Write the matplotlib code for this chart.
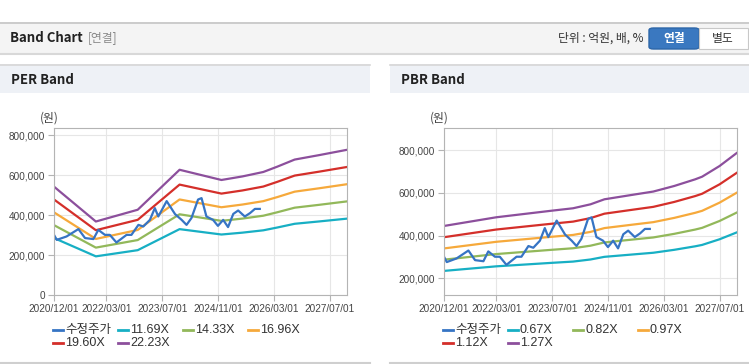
import matplotlib.pyplot as plt
from matplotlib.patches import Rectangle, FancyBboxPatch
from matplotlib.lines import Line2D

plt.rcParams['font.family'] = ['Liberation Sans', 'Noto Sans CJK KR']

# x positions are months counted from 2020/12
x_labels = ['2020/12/01', '2022/03/01', '2023/07/01', '2024/11/01', '2026/03/01', '2027/07/01']

price_x = [0, 0.8, 3.6, 7, 8.9, 11.3, 12.7, 14.6, 16, 17.9, 20.8, 22.2, 24.2, 25.6, 27.5,
           28.9, 29.9, 32.3, 34.7, 36.6, 38, 39.4, 41.3, 42.3, 43.7, 45.6, 47, 48.5, 49.9,
           51.4, 52.8, 54.7, 56.2, 57.6, 59]
price = [301000, 276000, 293000, 330000, 285000, 280000, 326000, 301000, 301000, 263000,
         301000, 301000, 351000, 343000, 376000, 435000, 393000, 470000, 405000, 376000,
         351000, 385000, 478000, 485000, 393000, 376000, 346000, 376000, 340000, 406000,
         423000, 393000, 410000, 431000, 431000]

per_x = [0, 12, 24, 36, 48, 54, 60, 64, 69, 76, 84]
per_names = ['11.69X', '14.33X', '16.96X', '19.60X', '22.23X']
per_bands = [
    [285200, 193500, 224400, 329700, 302800, 312100, 323800, 337800, 356500, 368200, 382300],
    [349700, 237200, 275100, 404100, 371100, 382600, 396900, 414100, 437100, 451400, 468600],
    [413800, 280700, 325600, 478300, 439300, 452800, 469800, 490100, 517300, 534200, 554600],
    [478200, 324400, 376300, 552700, 507600, 523300, 542900, 566400, 597800, 617400, 640900],
    [542400, 367900, 426800, 626900, 575800, 593500, 615800, 642400, 678000, 700200, 726900],
]

pbr_x = [0, 15, 31, 37, 42, 46, 55, 60, 66, 72, 74, 79, 84]
pbr_names = ['0.67X', '0.82X', '0.97X', '1.12X', '1.27X']
pbr_bands = [
    [234700, 256100, 272500, 278300, 288100, 300500, 312800, 319600, 333300, 349700, 356200, 382600, 415200],
    [287200, 313500, 333500, 340600, 352600, 367800, 382900, 391100, 408000, 428000, 436000, 468200, 508200],
    [339800, 370800, 394500, 402900, 417100, 435000, 452900, 462700, 482600, 506300, 515700, 553900, 601100],
    [392300, 428200, 455500, 465200, 481600, 502300, 522900, 534200, 557200, 584600, 595500, 639500, 694100],
    [444900, 485500, 516500, 527600, 546100, 569600, 593000, 605800, 631800, 662900, 675300, 725200, 787000],
]

price_color = '#3674c4'
band_colors = ['#17afc4', '#92b85a', '#f6a93b', '#d42f2a', '#8c4f9c']

W, H = 749, 364
fig = plt.figure(figsize=(W / 100, H / 100), dpi=100)


def rect(x0, y0, x1, y1, **kw):
    fig.add_artist(Rectangle((x0 / W, 1 - y1 / H), (x1 - x0) / W, (y1 - y0) / H,
                             transform=fig.transFigure, **kw))


def hline(x0, x1, y, color, lw=1):
    fig.add_artist(Line2D([x0 / W, x1 / W], [1 - y / H, 1 - y / H],
                          transform=fig.transFigure, color=color, lw=lw))


def text(x, y, s, **kw):
    fig.text(x / W, 1 - y / H, s, **kw)


# page header
rect(0, 22, W, 53, facecolor='#f4f4f4', edgecolor='none')
hline(0, W, 22.5, '#c4c4c4', 1.2)
hline(0, W, 53.5, '#d8d8d8', 1.5)
text(10, 38, 'Band Chart', fontsize=9.5, fontweight='bold', va='center', color='#222',
     family=['Noto Sans CJK KR'])
text(88, 38, '[연결]', fontsize=8.5, va='center', color='#888', family=['Noto Sans CJK KR'])
text(643, 38, '단위 : 억원, 배, %', fontsize=8.5, va='center', ha='right', color='#333',
     family=['Noto Sans CJK KR'])
fig.add_artist(FancyBboxPatch((649 / W, 1 - 49 / H), 50 / W, 21 / H, boxstyle='round,pad=0,rounding_size=0.006',
                              transform=fig.transFigure, facecolor='#3a78c0', edgecolor='#2d66a8'))
rect(699, 28, 748, 49, facecolor='white', edgecolor='#c8c8c8', lw=0.8)
text(674, 38.5, '연결', fontsize=8.5, fontweight='bold', va='center', ha='center', color='white',
     family=['Noto Sans CJK KR'])
text(723, 38.5, '별도', fontsize=8.5, va='center', ha='center', color='#333', family=['Noto Sans CJK KR'])

# panel headers
for x0, x1, title in [(0, 370, 'PER Band'), (390, W, 'PBR Band')]:
    rect(x0, 64, x1, 93, facecolor='#eef1f6', edgecolor='none')
    hline(x0, x1, 64.5, '#d6d6d6', 1.2)
    hline(x0, x1, 363, '#cfcfcf', 1.5)
    text(x0 + 11, 80, title, fontsize=9.5, fontweight='bold', va='center', color='#222',
         family=['Noto Sans CJK KR'])

x_ticks = [(int(s[:4]) - 2020) * 12 + int(s[5:7]) - 12 for s in x_labels]


def draw_panel(left, band_x, bands, names, ylim, yticks):
    ax = fig.add_axes([left / W, 1 - 295 / H, 293 / W, 167 / H])
    for vals, c in zip(bands, band_colors):
        ax.plot(band_x, vals, color=c, lw=1.6)
    ax.plot(price_x, price, color=price_color, lw=1.6)
    ax.set_xlim(0, 84)
    ax.set_ylim(*ylim)
    ax.set_xticks(x_ticks)
    ax.set_xticklabels(x_labels)
    ax.set_yticks(yticks)
    ax.set_yticklabels(['{:,}'.format(v) for v in yticks])
    ax.grid(True, color='#e6e6e6', lw=0.8)
    ax.set_axisbelow(True)
    for sp in ax.spines.values():
        sp.set_color('#b4b4b4')
    ax.tick_params(labelsize=7.2, colors='#b4b4b4', labelcolor='#444', length=4, pad=2.5)
    text(left - 5, 118, '(원)', fontsize=8.5, ha='center', va='center', color='#444',
         family=['Noto Sans CJK KR'])

    # legend, fixed item width like the original
    items = [('수정주가', price_color)] + list(zip(names, band_colors))
    for i, (name, c) in enumerate(items):
        lx = left - 1 + (i % 4) * 65
        ly = 330 + (i // 4) * 13
        fig.add_artist(Line2D([lx / W, (lx + 10) / W], [1 - ly / H, 1 - ly / H],
                              transform=fig.transFigure, color=c, lw=2))
        text(lx + 12, ly, name, fontsize=9, va='center', color='#333')


draw_panel(54, per_x, per_bands, per_names, (0, 836000), [0, 200000, 400000, 600000, 800000])
draw_panel(444, pbr_x, pbr_bands, pbr_names, (122000, 903000), [200000, 400000, 600000, 800000])

fig.savefig('out.png', dpi=100)
